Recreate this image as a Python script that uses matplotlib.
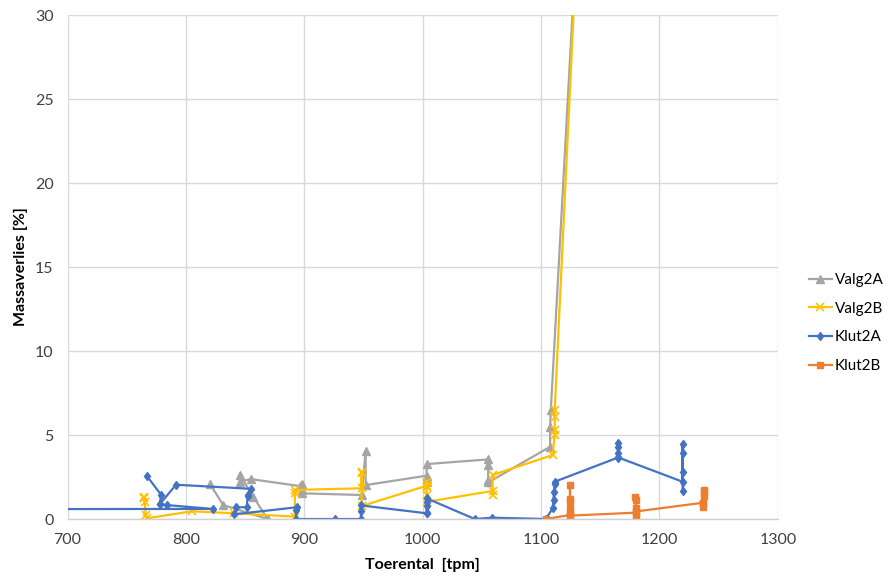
import numpy as np
import matplotlib.pyplot as plt

plt.rcParams['font.family'] = ['Lato', 'DejaVu Sans']

nan = np.nan

# Valg2A
valg2a_x = [820.3, 831.5, 869, 856.8, 845.6, 845.6, 854.6, 896.3, 897.7, 897.7, 897.7,
            948.4, 951.8, 951.8, 1003.3, 1003.3, 1003.3, 1003.3, 1055.3, 1055.3, 1055.3,
            1055.3, 1107.6, 1107.6, 1108.2, 1133.2]
valg2a_y = [2.08, 0.83, 0.0, 1.33, 2.62, 2.22, 2.38, 1.96, 2.06, 1.73, 1.53,
            1.43, 4.07, 2.02, 2.58, 2.36, 2.22, 3.27, 3.55, 3.21, 2.32,
            2.18, 4.3, 5.49, 6.49, 38.7]

# Valg2B
valg2b_x = [764.8, 764.8, 765.0, 766.2, 767.0, 804.8, 841.0, 892.0, 892.0, 892.0,
            948.4, 948.4, 948.4, 948.4, 1003.3, 1003.3, 1003.3, 1003.3, 1004.0,
            1059.0, 1059.0, 1059.0, 1109.7, 1111.5, 1111.5, 1111.5, 1111.5, 1133.2]
valg2b_y = [1.23, 1.33, 1.03, 0.24, 0.04, 0.46, 0.34, 0.14, 1.53, 1.73,
            1.83, 2.82, 2.72, 0.77, 1.98, 2.22, 1.92, 1.43, 1.03,
            1.67, 1.43, 2.62, 3.81, 5.0, 5.3, 6.1, 6.49, 38.7]

# Klut2A (gap after the first run)
klut2a_x = [0, 822.8, 783.7, 778.0, 778.9, 766.8, nan,
            778.0, 791.6, 854.6, 852.0, 852.0, 851.5, 842.0, 840.8, 893.7, 893.0, 893.0,
            926.0, 947.8, 947.8, 947.8, 1003.3, 1003.3, 1003.3, 1003.3, 1003.3,
            1044.0, 1058.7, 1104.0, 1109.7, 1110.5, 1110.7, 1111.5, 1111.5,
            1164.6, 1165.0, 1165.0, 1165.0, 1165.0, 1219.5, 1219.5, 1219.5, 1219.5, 1219.5]
klut2a_y = [0.55, 0.6, 0.83, 0.89, 1.45, 2.58, nan,
            0.89, 2.04, 1.8, 1.43, 1.37, 0.7, 0.7, 0.28, 0.7, 0.55, 0.0,
            0.0, 0.0, 0.47, 0.81, 0.34, 0.38, 0.79, 1.03, 1.23,
            0.0, 0.08, 0.0, 0.64, 1.13, 1.59, 2.07, 2.22,
            3.65, 3.91, 4.5, 4.3, 3.67, 2.22, 2.78, 3.95, 4.46, 1.68]

# Klut2B
klut2b_x = [1104.0, 1124.4, 1124.4, 1124.4, 1124.4, 1124.4, 1124.4, 1124.4,
            1180.2, 1180.2, 1180.2, 1180.2, 1179.5, 1180.2,
            1236.9, 1237.0, 1237.5, 1237.5, 1237.5, 1237.0]
klut2b_y = [0.0, 0.24, 0.58, 1.03, 1.17, 2.02, 0.34, 0.2,
            0.38, 0.14, 0.64, 1.13, 1.33, 0.45,
            0.97, 0.7, 1.37, 1.63, 1.73, 0.97]

fig = plt.figure(figsize=(8.89, 5.79), dpi=100)
ax = fig.add_axes([0.076, 0.1036, 0.799, 0.8704])

ax.plot(valg2a_x, valg2a_y, color='#A5A5A5', lw=1.6, marker='^', ms=5.5, label='Valg2A')
ax.plot(valg2b_x, valg2b_y, color='#FFC000', lw=1.6, marker='x', ms=6, mew=1.2, label='Valg2B')
ax.plot(klut2a_x, klut2a_y, color='#4472C4', lw=1.6, marker='d', ms=4.5, label='Klut2A')
ax.plot(klut2b_x, klut2b_y, color='#ED7D31', lw=1.6, marker='s', ms=4.5, label='Klut2B')

ax.set_xlim(700, 1300)
ax.set_ylim(0, 30)
ax.set_xticks(range(700, 1301, 100))
ax.set_yticks(range(0, 31, 5))
ax.grid(True, color='#D9D9D9', lw=1)
ax.set_axisbelow(True)
ax.tick_params(length=0, labelsize=11.5, colors='#404040')
ax.tick_params(axis='x', pad=10)
ax.tick_params(axis='y', pad=10)
for s in ['top', 'right', 'left']:
    ax.spines[s].set_visible(False)
ax.spines['bottom'].set_color('#D0D0D0')
ax.spines['bottom'].set_linewidth(1)

ax.set_xlabel('Toerental  [tpm]', fontsize=11.5, fontweight='bold', color='#000000', labelpad=8)
ax.set_ylabel('Massaverlies [%]', fontsize=11.5, fontweight='bold', color='#000000', labelpad=5)

fig.legend(loc='center left', bbox_to_anchor=(0.895, 0.442), frameon=False, fontsize=11,
           handlelength=1.45, labelspacing=0.95, handletextpad=0.2)

fig.savefig('out.png', dpi=100)
